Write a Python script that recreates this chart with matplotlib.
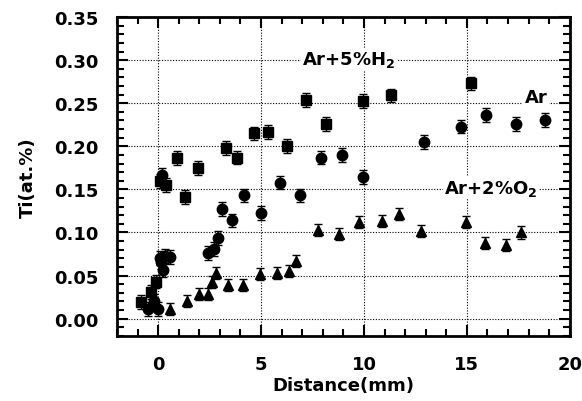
import matplotlib
matplotlib.use("Agg")
import matplotlib.pyplot as plt
from matplotlib.ticker import MultipleLocator

# Ar+5%H2 (squares)
h2_x = [-0.85, -0.35, -0.1, 0.07, 0.39, 0.9, 1.3, 1.95, 3.28, 3.85, 4.65, 5.33, 6.24,
        7.17, 8.15, 9.93, 11.3, 15.22]
h2_y = [0.019, 0.031, 0.043, 0.160, 0.155, 0.186, 0.141, 0.175, 0.198, 0.187, 0.215,
        0.217, 0.200, 0.254, 0.226, 0.253, 0.259, 0.273]

# Ar (circles)
ar_x = [-0.5, -0.2, 0.0, 0.15, 0.24, 0.08, 0.33, 0.57, 0.18, 2.44, 2.73, 2.89, 3.09,
        3.59, 4.16, 4.98, 5.92, 6.89, 7.9, 8.93, 9.93, 12.9, 14.7, 15.95, 17.37, 18.8]
ar_y = [0.011, 0.021, 0.011, 0.066, 0.056, 0.070, 0.073, 0.072, 0.167, 0.076, 0.081,
        0.094, 0.127, 0.114, 0.143, 0.123, 0.158, 0.143, 0.187, 0.190, 0.164, 0.205,
        0.223, 0.236, 0.226, 0.231]

# Ar+2%O2 (triangles)
o2_x = [0.57, 1.41, 2.0, 2.4, 2.6, 2.8, 3.38, 4.13, 4.94, 5.79, 6.36, 6.71, 7.79,
        8.8, 9.74, 10.88, 11.72, 12.78, 14.98, 15.87, 16.88, 17.62]
o2_y = [0.011, 0.021, 0.029, 0.029, 0.043, 0.053, 0.039, 0.039, 0.052, 0.053, 0.055,
        0.067, 0.103, 0.098, 0.112, 0.113, 0.121, 0.102, 0.112, 0.088, 0.085, 0.100]

h2_err, ar_err, o2_err = 0.008, 0.008, 0.007

plt.rcParams["font.family"] = "DejaVu Sans"
plt.rcParams["font.weight"] = "bold"

fig = plt.figure(figsize=(5.82, 4.02), dpi=100)
ax = fig.add_axes([0.201, 0.162, 0.778, 0.793])

style = dict(ls="none", color="black", ecolor="black", elinewidth=1.0, capsize=3,
             capthick=1.0, markersize=7.5)
ax.errorbar(h2_x, h2_y, yerr=h2_err, marker="s", **style)
ax.errorbar(ar_x, ar_y, yerr=ar_err, marker="o", **style)
ax.errorbar(o2_x, o2_y, yerr=o2_err, marker="^", **style)

ax.set_xlim(-2, 20)
ax.set_ylim(-0.02, 0.35)
ax.xaxis.set_major_locator(MultipleLocator(5))
ax.xaxis.set_minor_locator(MultipleLocator(1))
ax.yaxis.set_major_locator(MultipleLocator(0.05))
ax.yaxis.set_minor_locator(MultipleLocator(0.01))
ax.yaxis.set_major_formatter(plt.FormatStrFormatter("%.2f"))
ax.grid(True, which="major", ls=(0, (1, 1.5)), lw=0.8, color="black")
ax.set_axisbelow(True)

ax.tick_params(which="both", direction="in", top=True, right=True, labelsize=13,
               width=1.5)
ax.tick_params(axis="x", which="both", pad=14)
ax.tick_params(axis="y", which="both", pad=13)
ax.tick_params(which="major", length=8)
ax.tick_params(which="minor", length=5)
for s in ax.spines.values():
    s.set_linewidth(2)

ax.set_xlabel("Distance(mm)", fontsize=13, fontweight="bold", labelpad=2)
ax.set_ylabel("Ti(at.%)", fontsize=13, fontweight="bold", labelpad=13)

box = dict(facecolor="white", edgecolor="none", pad=1)
ax.text(7.0, 0.301, "Ar+5%H$_\\mathbf{2}$", fontsize=13, fontweight="bold",
        ha="left", va="center", bbox=box)
ax.text(17.8, 0.257, "Ar", fontsize=13, fontweight="bold", ha="left", va="center",
        bbox=box)
ax.text(13.9, 0.152, "Ar+2%O$_\\mathbf{2}$", fontsize=13, fontweight="bold",
        ha="left", va="center", bbox=box)

fig.savefig("out.png", dpi=100)
